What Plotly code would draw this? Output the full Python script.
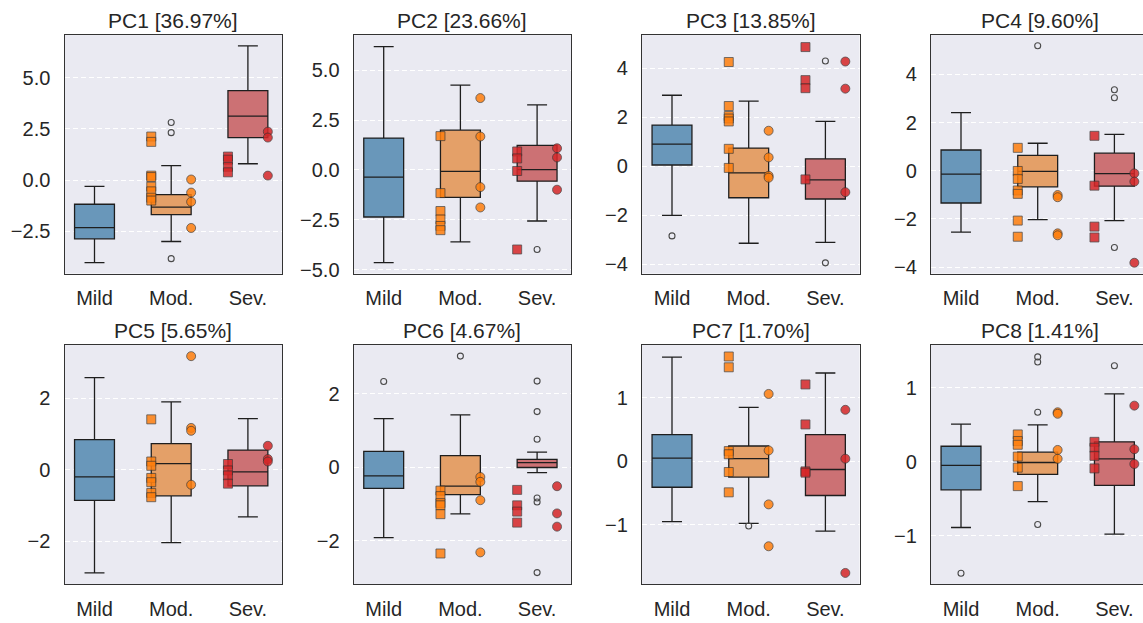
import plotly.graph_objects as go

# ---------------- data ----------------
categories = ["Mild", "Mod.", "Sev."]
titles = ["PC1 [36.97%]", "PC2 [23.66%]", "PC3 [13.85%]", "PC4 [9.60%]",
          "PC5 [5.65%]", "PC6 [4.67%]", "PC7 [1.70%]", "PC8 [1.41%]"]

# box statistics per PC, each row = [Mild, Mod., Sev.]
lower_fence = [[-4.03, -3.00, 0.80], [-4.65, -3.61, -2.56], [-2.01, -3.15, -3.11], [-2.55, -2.03, -2.07],
               [-2.89, -2.04, -1.32], [-1.91, -1.26, -0.14], [-0.95, -0.98, -1.10], [-0.89, -0.54, -0.98]]
q1 = [[-2.87, -1.69, 2.08], [-2.36, -1.37, -0.56], [0.05, -1.29, -1.34], [-1.34, -0.67, -0.64],
      [-0.86, -0.73, -0.45], [-0.57, -0.74, 0.00], [-0.41, -0.25, -0.54], [-0.38, -0.17, -0.32]]
median = [[-2.32, -1.32, 3.13], [-0.36, -0.07, 0.02], [0.90, -0.27, -0.56], [-0.14, -0.03, -0.12],
          [-0.20, 0.17, -0.06], [-0.23, -0.51, 0.13], [0.05, 0.04, -0.13], [-0.05, -0.01, 0.04]]
q3 = [[-1.18, -0.71, 4.38], [1.60, 2.00, 1.24], [1.68, 0.74, 0.30], [0.86, 0.64, 0.73],
      [0.84, 0.73, 0.55], [0.44, 0.32, 0.22], [0.42, 0.24, 0.42], [0.21, 0.13, 0.27]]
upper_fence = [[-0.31, 0.71, 6.56], [6.19, 4.26, 3.27], [2.90, 2.66, 1.83], [2.41, 1.14, 1.51],
               [2.58, 1.90, 1.43], [1.33, 1.43, 0.42], [1.64, 0.85, 1.39], [0.51, 0.50, 0.92]]

# outliers (fliers) per PC and group
fliers_mild = [[], [], [-2.85], [], [], [2.34], [], [-1.51]]
fliers_mod = [[2.82, 2.32, -3.84], [], [], [5.19], [], [3.03], [-1.02], [1.42, 1.35, 0.67, -0.85]]
fliers_sev = [[], [-3.99], [4.30, -3.95], [3.36, 3.03, -3.19], [], [2.35, 1.52, 0.77, -0.83, -0.94, -2.86],
              [], [1.30]]

# overlaid individual points (squares / circles) for Mod. and Sev.
mod_squares = [[2.13, 1.87, 0.22, 0.15, -0.32, -0.55, -0.86, -1.00],
               [1.70, -1.16, -2.06, -2.48, -2.81, -3.02],
               [4.26, 2.46, 2.05, 1.95, 1.83, 0.71, -0.07],
               [0.95, -0.01, -0.34, -0.82, -0.96, -2.07, -2.74],
               [1.41, 0.23, 0.11, -0.23, -0.35, -0.65, -0.77],
               [-0.63, -0.78, -0.97, -1.03, -1.27, -2.34],
               [1.65, 1.48, 0.16, 0.11, -0.17, -0.49],
               [0.37, 0.28, 0.23, 0.07, -0.08, -0.33]]
mod_circles = [[0.03, -0.61, -1.06, -2.34],
               [3.61, 1.68, -0.86, -1.88],
               [1.45, 0.36, -0.39, -0.47],
               [-1.01, -1.10, -2.60, -2.68],
               [3.18, 1.17, 1.09, -0.42],
               [-0.26, -0.39, -0.89, -2.31],
               [1.06, 0.17, -0.68, -1.34],
               [0.67, 0.65, 0.16, 0.04]]
sev_squares = [[1.15, 1.00, 0.65, 0.38],
               [0.93, 0.58, -0.05, -3.99],
               [4.87, 3.52, 3.19, -0.54],
               [1.45, -0.62, -2.32, -2.77],
               [0.16, -0.02, -0.16, -0.39],
               [-0.61, -1.03, -1.20, -1.50],
               [1.21, 0.58, -0.16, -0.18],
               [0.27, 0.19, 0.08, -0.09]]
sev_circles = [[2.37, 2.08, 0.22],
               [1.09, 0.63, -0.99],
               [4.28, 3.17, -1.06],
               [-0.11, -0.45, -3.82],
               [0.67, 0.30, 0.23],
               [-0.51, -1.25, -1.61],
               [0.81, 0.04, -1.76],
               [0.76, 0.17, -0.03]]

# y tick values and labels
ytick_vals = [[-2.5, 0, 2.5, 5.0], [-5.0, -2.5, 0, 2.5, 5.0], [-4, -2, 0, 2, 4], [-4, -2, 0, 2, 4],
              [-2, 0, 2], [-2, 0, 2], [-1, 0, 1], [-1, 0, 1]]
ytick_text = [["\u22122.5", "0.0", "2.5", "5.0"], ["\u22125.0", "\u22122.5", "0.0", "2.5", "5.0"],
              ["\u22124", "\u22122", "0", "2", "4"], ["\u22124", "\u22122", "0", "2", "4"],
              ["\u22122", "0", "2"], ["\u22122", "0", "2"], ["\u22121", "0", "1"], ["\u22121", "0", "1"]]
y_ranges = [[-4.57, 7.09], [-5.2, 6.77], [-4.39, 5.36], [-4.27, 5.63],
            [-3.21, 3.49], [-3.18, 3.33], [-1.94, 1.83], [-1.66, 1.58]]

# ---------------- styling / layout ----------------
W, H = 1143, 623
box_fill = ["#6997ba", "#e4a068", "#cc7174"]
point_color = {"mod": "#ff7f0e", "sev": "#d62728"}
FONT = "Liberation Sans, Arial, Helvetica, sans-serif"
TXT = "#262626"

col_left = [64.5, 353.7, 642.0, 931.0]
col_w = 217.5
row_top = [35.5, 349.0]
row_bot = [276.7, 591.0]
px_per_cat = 76.7
x_left = -30.0 / px_per_cat

SQ_OFF, CI_OFF = -0.26, 0.26

fig = go.Figure()
annotations = []
layout_axes = {}

for k in range(8):
    r, c = divmod(k, 4)
    xa = "x" if k == 0 else f"x{k+1}"
    ya = "y" if k == 0 else f"y{k+1}"
    xname = "xaxis" if k == 0 else f"xaxis{k+1}"
    yname = "yaxis" if k == 0 else f"yaxis{k+1}"

    # boxes
    for g in range(3):
        fig.add_trace(go.Box(
            x=[g], q1=[q1[k][g]], median=[median[k][g]], q3=[q3[k][g]],
            lowerfence=[lower_fence[k][g]], upperfence=[upper_fence[k][g]],
            fillcolor=box_fill[g], line=dict(color="#1e1e1e", width=1.3),
            width=0.52, whiskerwidth=0.5, boxpoints=False, hoverinfo="skip",
            xaxis=xa, yaxis=ya, showlegend=False))

    # fliers
    for g, fl in enumerate([fliers_mild[k], fliers_mod[k], fliers_sev[k]]):
        if fl:
            fig.add_trace(go.Scatter(
                x=[g] * len(fl), y=fl, mode="markers",
                marker=dict(symbol="circle-open", size=6, color="#4a4a4a", line=dict(width=1.1)),
                xaxis=xa, yaxis=ya, showlegend=False, hoverinfo="skip"))

    # overlaid points
    for g, key, sq, ci in [(1, "mod", mod_squares[k], mod_circles[k]),
                           (2, "sev", sev_squares[k], sev_circles[k])]:
        fig.add_trace(go.Scatter(
            x=[g + SQ_OFF] * len(sq), y=sq, mode="markers",
            marker=dict(symbol="square", size=9, color=point_color[key], opacity=0.85,
                        line=dict(color="rgba(50,50,50,0.75)", width=1)),
            xaxis=xa, yaxis=ya, showlegend=False, hoverinfo="skip"))
        fig.add_trace(go.Scatter(
            x=[g + CI_OFF] * len(ci), y=ci, mode="markers",
            marker=dict(symbol="circle", size=9, color=point_color[key], opacity=0.85,
                        line=dict(color="rgba(50,50,50,0.75)", width=1)),
            xaxis=xa, yaxis=ya, showlegend=False, hoverinfo="skip"))

    L = col_left[c]
    R = min(L + col_w, W)
    x_right = x_left + (R - L) / px_per_cat
    layout_axes[xname] = dict(
        domain=[L / W, R / W], range=[x_left, x_right], anchor=ya,
        tickmode="array", tickvals=[0, 1, 2], ticktext=categories,
        showgrid=False, zeroline=False, ticks="", ticklabelstandoff=6,
        showline=True, linecolor="#333333", linewidth=1.3, mirror=True,
        tickfont=dict(family=FONT, size=20, color=TXT), fixedrange=True)
    layout_axes[yname] = dict(
        domain=[1 - row_bot[r] / H, 1 - row_top[r] / H], range=y_ranges[k], anchor=xa,
        tickmode="array", tickvals=ytick_vals[k], ticktext=ytick_text[k],
        showgrid=True, gridcolor="white", gridwidth=1, griddash="5px,3px",
        zeroline=False, ticks="", ticklabelstandoff=9,
        showline=True, linecolor="#333333", linewidth=1.3, mirror=(c != 3),
        tickfont=dict(family=FONT, size=20, color=TXT), fixedrange=True)

    annotations.append(dict(
        text=titles[k], xref="paper", yref="paper",
        x=(L + col_w / 2) / W, y=1 - row_top[r] / H,
        xanchor="center", yanchor="bottom", yshift=1, showarrow=False,
        font=dict(family=FONT, size=21, color=TXT)))

fig.update_layout(
    width=W, height=H, margin=dict(l=0, r=0, t=0, b=0),
    paper_bgcolor="white", plot_bgcolor="#eaeaf2",
    boxmode="overlay", showlegend=False, annotations=annotations,
    **layout_axes)

fig.write_html("out.html")
